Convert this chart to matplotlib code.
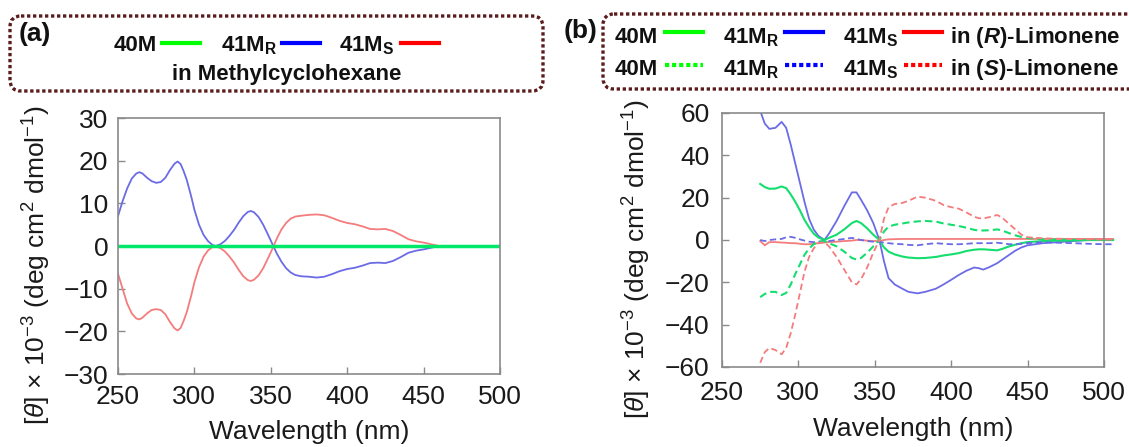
import matplotlib
matplotlib.use('Agg')
import matplotlib.pyplot as plt
from matplotlib.patches import FancyBboxPatch
from matplotlib.lines import Line2D

plt.rcParams['font.family'] = ['Liberation Sans', 'DejaVu Sans']
plt.rcParams['mathtext.fontset'] = 'custom'
plt.rcParams['mathtext.rm'] = 'Liberation Sans'
plt.rcParams['mathtext.it'] = 'Liberation Sans:italic'
plt.rcParams['mathtext.bf'] = 'Liberation Sans:bold'
plt.rcParams['mathtext.bfit'] = 'Liberation Sans:italic:bold'

# ---- panel (a): methylcyclohexane ----
wl_a = [250, 253, 256, 259, 262, 264, 266, 269, 272, 275, 278, 281, 284, 287, 289, 291, 293, 295, 298, 300,
        303, 306, 309, 312, 314, 317, 320, 323, 326, 329, 332, 335, 337, 339, 342, 345, 348, 351, 354, 357,
        360, 363, 366, 370, 375, 380, 385, 390, 395, 400, 405, 410, 415, 420, 425, 430, 435, 440, 445, 450,
        455, 460, 470, 480, 490, 500]
r_a = [7, 10.5, 13.5, 15.8, 17, 17.3, 17, 16, 15.2, 14.8, 15, 16, 17.8, 19.3, 19.8, 19.2, 17.5, 15.5, 11.5, 8.5,
       5, 2.6, 1.1, 0.2, 0, 0.4, 1.2, 2.4, 3.8, 5.5, 7, 8, 8.2, 7.9, 6.8, 5, 2.8, 0.5, -1.8, -3.7,
       -5.2, -6.2, -6.8, -7.1, -7.2, -7.4, -7.2, -6.6, -5.9, -5.4, -5.1, -4.6, -4.0, -3.9, -4.0, -3.5, -2.6, -1.6, -1.1, -0.8,
       -0.4, 0, 0, 0, 0, 0]
s_a = [-6.5, -10, -13.5, -15.8, -17, -17.2, -16.8, -15.8, -15, -14.8, -15, -16, -17.8, -19.3, -19.8, -19.2, -17.5, -15.5, -11.5, -8.5,
       -5, -2.5, -1, -0.2, -0.1, -0.5, -1.3, -2.5, -3.9, -5.6, -7.1, -8.0, -8.2, -7.9, -6.9, -5.2, -3, -0.7, 1.8, 3.9,
       5.4, 6.4, 6.9, 7.1, 7.3, 7.4, 7.2, 6.6, 5.9, 5.4, 5.1, 4.6, 4.0, 3.9, 4.0, 3.5, 2.6, 1.6, 1.1, 0.8,
       0.4, 0, 0, 0, 0, 0]
m40_a = [0.0] * len(wl_a)

# ---- panel (b): (R)- and (S)-limonene ----
wl_b = [275, 278, 281, 285, 289, 292, 295, 298, 301, 304, 307, 310, 313, 317,
        320, 325, 330, 335, 338, 341, 345, 349, 353, 356, 359, 363, 368, 372,
        378, 383, 390, 395, 400, 405, 410, 415, 418, 421, 425, 430, 433, 438,
        442, 446, 450, 460, 470, 480, 490, 500, 506]
r_Rlim = [61, 55, 52.5, 53, 55.8, 53, 45, 36, 27, 18, 10, 5, 2, 0,
          3, 9, 16, 22.5, 22.5, 19, 14, 8, 0, -10, -18, -21, -23, -24.5,
          -25.2, -24.5, -23, -21, -18.8, -16.5, -14.5, -13, -13.3, -14, -12.8, -11, -9.5, -7,
          -5, -3.5, -2.5, -1.5, -1, -0.5, 0, 0.5, 0.5]
m40_Rlim = [26.5, 25, 24.2, 24.3, 25.3, 24.5, 21.5, 18, 14, 9.5, 6, 3, 1.2, 0,
            1, 2.5, 5, 8, 9, 8, 5.5, 2.5, 0, -3.5, -5.5, -6.8, -7.8, -8.3,
            -8.6, -8.5, -8, -7.3, -6.8, -6.2, -5.2, -4.6, -4.4, -4.4, -4.6, -4.9, -4.3, -3,
            -2.2, -1.5, -1, -0.5, -0.3, -0.2, 0, 0, 0]
s_Rlim = [-0.5, -2.5, -1, -1, -1.2, -1.3, -1.5, -1.5, -1.8, -2, -2, -1.8, -1.5, -1.2,
          -1, -0.8, -0.5, -0.3, 0, 0, -0.3, -0.5, -0.5, 0, 0.3, 0.4, 0.5, 0.5,
          0.5, 0.5, 0.5, 0.5, 0.5, 0.5, 0.5, 0.5, 0.5, 0.5, 0.5, 0.5, 0.5, 0.5,
          0.5, 0.5, 0.5, 0.5, 0.5, 0.5, 0.5, 0.5, 0.5]
m40_Slim = [-27, -25.5, -24.5, -24.5, -26, -25, -21, -16, -11.5, -7, -4, -2, -0.8, -0.5,
            -1.5, -3, -5.5, -8.5, -9.2, -8.5, -6, -3, 0, 4, 6.3, 7.2, 7.8, 8.3,
            8.8, 9, 8.7, 7.8, 7.2, 6.6, 5.8, 4.8, 4.5, 4.5, 4.6, 5, 4.6, 3.2,
            2.2, 1.4, 0.9, 0.4, 0.2, 0.1, 0, 0, 0]
r_Slim = [0, -0.5, 0, 0.3, 0.5, 1.3, 1.5, 1, 0.3, -0.3, -0.8, -1, -0.8, -0.5,
          -0.5, 0, 0.5, 1, 0.5, 0, -0.5, -0.8, -1, -1.2, -1.5, -1.8, -2, -2.3,
          -2.5, -2, -1.5, -1.8, -2, -2, -1.8, -1.5, -1.5, -1.5, -1.5, -1.3, -1.5, -2,
          -2, -1.8, -1.5, -1, -1.3, -1.5, -1.8, -2, -2]
s_Slim = [-58, -53, -51, -52, -54, -51, -44, -35, -25, -15, -8, -4, -1.5, -1,
          -3, -8, -14, -20, -21, -18.5, -13, -6, 0, 10, 15.5, 17, 17.5, 18.5,
          20.5, 20, 18.5, 16.5, 15.5, 14.8, 13, 11, 10.3, 10.2, 10.8, 11.8, 10.8, 7.5,
          5, 2.5, 1.3, 0.8, 0.6, 0.5, 0.3, 0.2, 0.2]

c_blue = '#6b6be6'
c_red = '#f47c7c'
c_green = '#14de6e'
ylab = r'[$\it{\theta}$] × 10$^{-3}$ (deg cm$^{2}$ dmol$^{-1}$)'

fig = plt.figure(figsize=(11.29, 4.47), dpi=100)


def style_axes(ax):
    for s in ax.spines.values():
        s.set_color('#8a8a8a')
        s.set_linewidth(1.2)
    ax.tick_params(direction='in', length=5, width=1, color='#8a8a8a',
                   labelsize=19, labelcolor='#1a1a1a')
    ax.set_xlim(250, 500)
    ax.set_xticks([250, 300, 350, 400, 450, 500])
    ax.set_xlabel('Wavelength (nm)', fontsize=19, color='#1a1a1a')
    ax.set_ylabel(ylab, fontsize=19, color='#1a1a1a')


ax1 = fig.add_axes([118 / 1129, 1 - 374 / 447, 382 / 1129, 256 / 447])
ax1.plot(wl_a, r_a, color=c_blue, lw=1.3)
ax1.plot(wl_a, s_a, color=c_red, lw=1.3)
ax1.plot(wl_a, m40_a, color='#00e86a', lw=2.5)
style_axes(ax1)
ax1.set_ylim(-30, 30)
ax1.set_yticks(range(-30, 31, 10))
ax1.tick_params(axis='x', pad=8)
ax1.tick_params(axis='y', pad=7)
ax1.yaxis.set_label_coords(-0.17, 0.426)
ax1.xaxis.labelpad = 8

ax2 = fig.add_axes([722 / 1129, 1 - 367 / 447, 382 / 1129, 254 / 447])
dash = (3.5, 2)
ax2.plot(wl_b, r_Rlim, color=c_blue, lw=1.3)
ax2.plot(wl_b, m40_Rlim, color=c_green, lw=1.5, clip_on=False)
ax2.plot(wl_b, s_Rlim, color=c_red, lw=1.3, clip_on=False)
ax2.plot(wl_b, r_Slim, color=c_blue, lw=1.3, linestyle=(0, dash), clip_on=False)
ax2.plot(wl_b, m40_Slim, color=c_green, lw=1.5, linestyle=(0, dash), clip_on=False)
ax2.plot(wl_b, s_Slim, color=c_red, lw=1.3, linestyle=(0, dash), clip_on=False)
style_axes(ax2)
ax2.set_ylim(-60, 60)
ax2.set_yticks(range(-60, 61, 20))
ax2.tick_params(axis='x', pad=10)
ax2.tick_params(axis='y', pad=9)
ax2.yaxis.set_label_coords(-0.18, 0.425)
ax2.xaxis.labelpad = 9

# ---- legend boxes drawn in pixel space ----
ov = fig.add_axes([0, 0, 1, 1], zorder=-1)
ov.set_xlim(0, 1129)
ov.set_ylim(447, 0)
ov.axis('off')

box_col = '#5a1c1c'
for (x0, y0, w, h) in [(10, 16, 533, 75), (603, 14, 560, 75)]:
    ov.add_patch(FancyBboxPatch((x0, y0), w, h,
                                boxstyle='round,pad=0,rounding_size=11',
                                fill=False, edgecolor=box_col, lw=2.4,
                                linestyle=(0, (1, 0.8)), clip_on=False))

tkw = dict(fontsize=16, fontweight='bold', color='#111111', va='baseline', ha='left')
ov.text(19, 41, '(a)', fontsize=19, fontweight='bold', color='#111111', va='baseline')
ov.text(564, 38, '(b)', fontsize=19, fontweight='bold', color='#111111', va='baseline')

names = ['40M', r'41M$_{\mathbf{R}}$', r'41M$_{\mathbf{S}}$']
cols = ['#00ff00', '#0000ff', '#ff0000']

# panel (a) legend
for name, c, tx, lx in zip(names, cols, [114, 221, 339], [162, 282, 401]):
    ov.text(tx, 51, name, **tkw)
    ov.add_line(Line2D([lx, lx + 38], [43, 43], color=c, lw=3))
ov.text(287, 80, 'in Methylcyclohexane', fontsize=16, fontweight='bold',
        color='#111111', va='baseline', ha='center')

# panel (b) legend
rows = [(43, 32, '-', r'in ($\mathbfit{R}$)-Limonene'),
        (75, 65, (0, (1, 0.7)), r'in ($\mathbfit{S}$)-Limonene')]
for base, ly, ls, solvent in rows:
    for name, c, tx, lx in zip(names, cols, [615, 723, 843], [665, 785, 904]):
        ov.text(tx, base, name, **tkw)
        ov.add_line(Line2D([lx, lx + 38], [ly, ly], color=c, lw=3, linestyle=ls))
    ov.text(950, base, solvent, **tkw)

fig.savefig('out.png', dpi=100)
